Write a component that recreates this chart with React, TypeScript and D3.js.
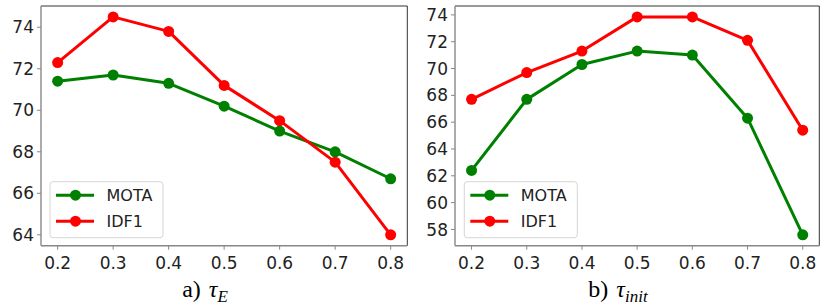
import React from "react";
import * as d3 from "d3";

const xValues = [0.2, 0.3, 0.4, 0.5, 0.6, 0.7, 0.8];
const xTicks = [0.2, 0.3, 0.4, 0.5, 0.6, 0.7, 0.8];

const motaA = [71.4, 71.7, 71.3, 70.2, 69.0, 68.0, 66.7];
const idf1A = [72.3, 74.5, 73.8, 71.2, 69.5, 67.5, 64.0];
const yTicksA = [64, 66, 68, 70, 72, 74];

const motaB = [62.4, 67.7, 70.3, 71.3, 71.0, 66.3, 57.6];
const idf1B = [67.7, 69.7, 71.3, 73.85, 73.85, 72.1, 65.4];
const yTicksB = [58, 60, 62, 64, 66, 68, 70, 72, 74];

const seriesNames = ["MOTA", "IDF1"];
const seriesColors = ["#008000", "#ff0000"];

const W = 829;
const H = 307;
const TICK_FONT = "'DejaVu Sans', sans-serif";

type PanelProps = {
  x0: number;
  x1: number;
  y0: number;
  y1: number;
  series: number[][];
  yTicks: number[];
  legendX: number;
  legendY: number;
  captionX: number;
  captionPrefix: string;
  captionSub: string;
};

function Panel(p: PanelProps) {
  const all = p.series.flat();
  const [mn, mx] = d3.extent(all) as [number, number];
  const pad = (mx - mn) * 0.05;
  const y = d3.scaleLinear().domain([mn - pad, mx + pad]).range([p.y1, p.y0]);
  const xPad = (0.8 - 0.2) * 0.05;
  const x = d3.scaleLinear().domain([0.2 - xPad, 0.8 + xPad]).range([p.x0, p.x1]);
  const line = d3
    .line<number>()
    .x((_, i) => x(xValues[i]))
    .y((d) => y(d));

  const lw = 113;
  const lh = 56;
  return (
    <g>
      {/* spines */}
      <line x1={p.x0} x2={p.x1} y1={p.y0} y2={p.y0} stroke="#333" strokeWidth={1} />
      <line x1={p.x1} x2={p.x1} y1={p.y0} y2={p.y1} stroke="#333" strokeWidth={1} />
      <line x1={p.x0} x2={p.x0} y1={p.y0} y2={p.y1} stroke="#888" strokeWidth={1.4} />
      <line x1={p.x0} x2={p.x1} y1={p.y1} y2={p.y1} stroke="#888" strokeWidth={1.4} />
      {/* y ticks */}
      {p.yTicks.map((t) => (
        <g key={"y" + t}>
          <line x1={p.x0 - 4} x2={p.x0} y1={y(t)} y2={y(t)} stroke="#888" strokeWidth={1} />
          <text
            x={p.x0 - 7}
            y={y(t)}
            dy="0.36em"
            textAnchor="end"
            fontFamily={TICK_FONT}
            fontSize={17}
            fill="#222"
          >
            {t}
          </text>
        </g>
      ))}
      {/* x ticks */}
      {xTicks.map((t) => (
        <g key={"x" + t}>
          <line x1={x(t)} x2={x(t)} y1={p.y1} y2={p.y1 + 4} stroke="#888" strokeWidth={1} />
          <text
            x={x(t)}
            y={p.y1 + 23}
            textAnchor="middle"
            fontFamily={TICK_FONT}
            fontSize={17}
            fill="#222"
          >
            {t.toFixed(1)}
          </text>
        </g>
      ))}
      {/* series */}
      {p.series.map((s, si) => (
        <g key={"s" + si}>
          <path d={line(s) || ""} fill="none" stroke={seriesColors[si]} strokeWidth={3} strokeLinejoin="round" />
          {s.map((v, i) => (
            <circle key={i} cx={x(xValues[i])} cy={y(v)} r={5.5} fill={seriesColors[si]} />
          ))}
        </g>
      ))}
      {/* legend */}
      <rect
        x={p.legendX}
        y={p.legendY}
        width={lw}
        height={lh}
        rx={3}
        fill="white"
        fillOpacity={0.85}
        stroke="#d5d5d5"
        strokeWidth={1}
      />
      {seriesNames.map((n, i) => {
        const cy = p.legendY + 13.5 + i * 26;
        return (
          <g key={n}>
            <line x1={p.legendX + 6} x2={p.legendX + 44} y1={cy} y2={cy} stroke={seriesColors[i]} strokeWidth={3} />
            <circle cx={p.legendX + 25.5} cy={cy} r={5.5} fill={seriesColors[i]} />
            <text x={p.legendX + 56.5} y={cy} dy="0.36em" fontFamily={TICK_FONT} fontSize={16} fill="#222">
              {n}
            </text>
          </g>
        );
      })}
      {/* caption */}
      <text
        x={p.captionX}
        y={297}
        textAnchor="middle"
        fontFamily="'Liberation Serif', 'Times New Roman', serif"
        fontSize={24}
        fill="#000"
      >
        {p.captionPrefix}
        <tspan fontStyle="italic" dx={2}>τ</tspan>
        <tspan fontStyle="italic" fontSize={17} dy={5}>
          {p.captionSub}
        </tspan>
      </text>
    </g>
  );
}

export default function App() {
  return (
    <svg
      width={W}
      height={H}
      style={{ position: "absolute", left: 0, top: 0, background: "white" }}
    >
      <rect width={W} height={H} fill="white" />
      <Panel
        x0={41}
        x1={407.3}
        y0={6}
        y1={245.7}
        series={[motaA, idf1A]}
        yTicks={yTicksA}
        legendX={50}
        legendY={181.7}
        captionX={205}
        captionPrefix="a) "
        captionSub="E"
      />
      <Panel
        x0={455}
        x1={819.3}
        y0={6}
        y1={245.7}
        series={[motaB, idf1B]}
        yTicks={yTicksB}
        legendX={464.3}
        legendY={181.7}
        captionX={618}
        captionPrefix="b) "
        captionSub="init"
      />
    </svg>
  );
}
